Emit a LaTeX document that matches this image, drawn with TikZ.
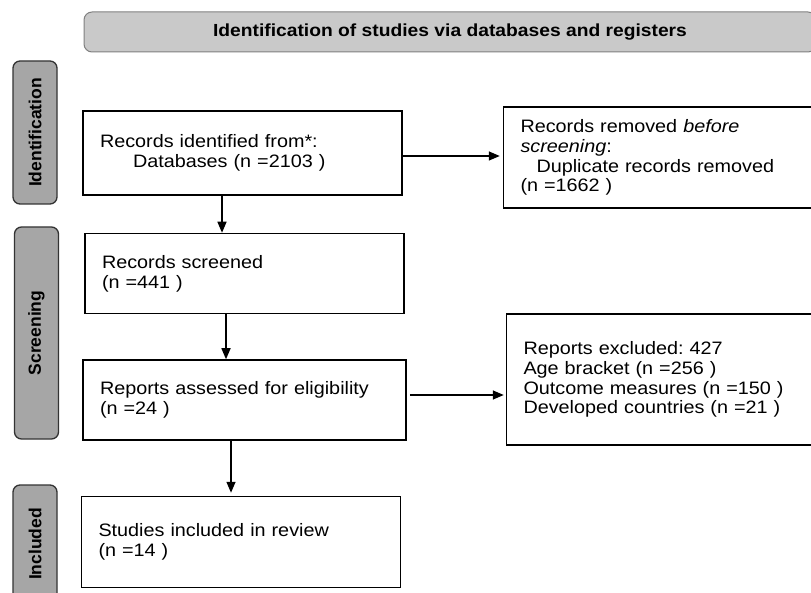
\documentclass[tikz,border=0pt]{standalone}
\usepackage{fontspec}
\setmainfont{Liberation Sans}[FakeStretch=1.1]
\newfontfamily\phasefont{Liberation Sans}
\usetikzlibrary{arrows.meta,positioning}
\definecolor{headfill}{HTML}{C9C9C9}
\definecolor{headline}{HTML}{808080}
\definecolor{phasefill}{HTML}{A6A6A6}
\definecolor{phaseline}{HTML}{333333}
\frenchspacing

\begin{document}
\begin{tikzpicture}[x=1pt,y=-1pt,
    headbox/.style={rectangle, draw=headline, fill=headfill, rounded corners=8pt,
                    line width=1pt, minimum width=732pt, minimum height=40pt,
                    font=\fontsize{17.5}{20}\selectfont\bfseries},
    phasebox/.style={rectangle, draw=phaseline, fill=phasefill, rounded corners=7pt,
                     line width=1.3pt, rotate=90, minimum height=44pt, inner sep=0pt,
                     font=\phasefont\fontsize{17.5}{20}\selectfont\bfseries},
    recbox/.style={rectangle, draw=black, line width=1.5pt, text width=285pt,
                   inner xsep=17pt, inner ysep=0pt, minimum height=80pt,
                   align=left, font=\fontsize{18}{19.8}\selectfont},
    outbox/.style={recbox, text width=296pt},
    flow/.style={-{Triangle[length=11pt,width=9pt]}, line width=1.5pt},
]
\useasboundingbox (0,0) rectangle (811,593);
\clip (0,0) rectangle (811,593);

% header and phase labels
\node[headbox] (head) at (450,32) {Identification of studies via databases and registers};
\node[phasebox,minimum width=143pt] (phid) at (35,132.5) {Identification};
\node[phasebox,minimum width=212pt] (phscr) at (36.5,333) {Screening};
\node[phasebox,minimum width=118pt] (phinc) at (35,544) {Included};

% main column
\node[recbox,minimum height=84pt] (ident) at (242.5,153)
    {Records identified from*:\\\hspace*{33pt}Databases (n =2103 )};
\node[recbox,below=37pt of ident,xshift=2pt] (screen)
    {Records screened\\(n =441 )};
\node[recbox,text width=289pt,below=45pt of screen] (assess)
    {Reports assessed for eligibility\\(n =24 )};
\node[recbox,minimum height=91pt,below=55pt of assess,xshift=-3.5pt] (incl)
    {Studies included in review\\(n =14 )};

% side boxes
\node[outbox,minimum height=101pt,right=100pt of ident,yshift=-4.5pt] (removed)
    {Records removed \textit{before}\\\textit{screening}:\\\hspace*{16pt}Duplicate records removed\\(n =1662 )};
\node[outbox,minimum height=131pt,right=99pt of assess,yshift=20.5pt] (excl)
    {Reports excluded: 427\\Age bracket (n =256 )\\Outcome measures (n =150 )\\Developed countries (n =21 )};

% arrows
\coordinate (a1) at ([yshift=-3pt]ident.east);
\coordinate (a2) at ([yshift=5pt]assess.east);
\draw[flow,shorten >=3pt] (a1) -- (a1 -| removed.west);
\draw[flow,shorten >=2pt,shorten <=3pt] (a2) -- (a2 -| excl.west);
\coordinate (d1) at ([xshift=-20.5pt]ident.south);
\coordinate (d2) at ([xshift=-18.5pt]screen.south);
\coordinate (d3) at ([xshift=-13.5pt]assess.south);
\draw[flow] (d1) -- (d1 |- screen.north);
\draw[flow] (d2) -- (d2 |- assess.north);
\draw[flow,shorten >=3pt] (d3) -- (d3 |- incl.north);
\end{tikzpicture}
\end{document}
